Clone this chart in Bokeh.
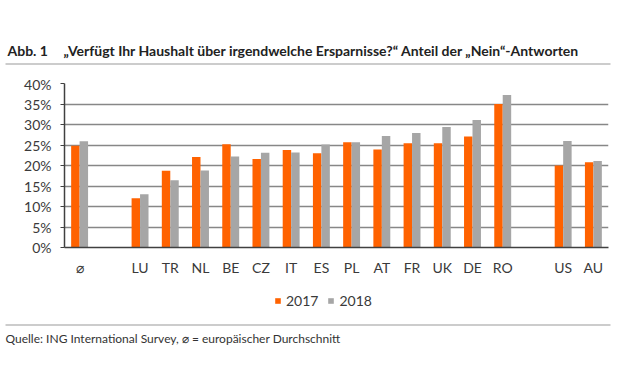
from bokeh.plotting import figure
from bokeh.models import (FactorRange, Range1d, PrintfTickFormatter, Legend, LegendItem,
                          FixedTicker, ColumnDataSource, Label)
from bokeh.transform import dodge
from bokeh.layouts import column
from bokeh.embed import file_html
from bokeh.resources import INLINE

# ---------------- data ----------------
countries = ["⌀", "LU", "TR", "NL", "BE", "CZ", "IT", "ES", "PL", "AT", "FR", "UK", "DE", "RO", "US", "AU"]
values_2017 = [24.8, 12.0, 18.7, 22.1, 25.2, 21.6, 23.8, 23.0, 25.7, 23.9, 25.4, 25.4, 27.1, 35.0, 20.0, 20.8]
values_2018 = [25.9, 13.0, 16.4, 18.8, 22.2, 23.1, 23.2, 25.1, 25.7, 27.2, 27.9, 29.4, 31.1, 37.2, 26.0, 21.1]
axis_factors = ["⌀", " ", "LU", "TR", "NL", "BE", "CZ", "IT", "ES", "PL", "AT", "FR", "UK", "DE", "RO",
                "  ", "US", "AU"]
y_ticks = [0, 5, 10, 15, 20, 25, 30, 35, 40]
series_labels = ["2017", "2018"]

title_fig = "Abb. 1"
title_text = "\u201eVerfügt Ihr Haushalt über irgendwelche Ersparnisse?\u201c Anteil der \u201eNein\u201c-Antworten"
source_text = "Quelle: ING International Survey, \u2300 = europäischer Durchschnitt"

ORANGE = "#FF6200"
GREY = "#A6A6A6"
TXT = "#3a3a3a"
FONT = "Lato"
W = 616

# ---------------- top (title) ----------------
top = figure(width=W, height=75, x_range=Range1d(0, W), y_range=Range1d(75, 0),
             output_backend="svg", toolbar_location=None, min_border=0,
             x_axis_location=None, y_axis_location=None, frame_align=False)
top.grid.visible = False
top.outline_line_color = None
top.add_layout(Label(x=7, y=50, text=title_fig, text_font=FONT, text_font_size="14px",
                     text_font_style="bold", text_color="#222222", text_baseline="middle"))
top.add_layout(Label(x=63, y=50, text=title_text, text_font=FONT, text_font_size="14px",
                     text_font_style="bold", text_color="#222222", text_baseline="middle"))
top.segment(x0=[5], y0=[63.5], x1=[610], y1=[63.5], line_color="#9a9a9a", line_width=1.2)

# ---------------- main chart ----------------
src = ColumnDataSource(dict(country=countries, v2017=values_2017, v2018=values_2018))

p = figure(width=W, height=208, x_range=FactorRange(*axis_factors, range_padding=0),
           y_range=Range1d(0, 40), output_backend="svg", toolbar_location=None,
           min_border_left=64, min_border_right=8, min_border_top=8, min_border_bottom=36,
           frame_align=False)
p.outline_line_color = None

r1 = p.vbar(x=dodge("country", -0.14, range=p.x_range), top="v2017", width=0.28, source=src,
            fill_color=ORANGE, line_color=None)
r2 = p.vbar(x=dodge("country", 0.14, range=p.x_range), top="v2018", width=0.28, source=src,
            fill_color=GREY, line_color=None)

p.yaxis.ticker = FixedTicker(ticks=y_ticks)
p.yaxis.formatter = PrintfTickFormatter(format="%d%%")
p.yaxis.axis_line_color = "#404040"
p.yaxis.axis_line_width = 1.5
p.yaxis.major_tick_line_color = "#404040"
p.yaxis.major_tick_out = 4
p.yaxis.major_tick_in = 0
p.yaxis.minor_tick_line_color = None
p.yaxis.major_label_standoff = 9
p.yaxis.major_label_text_font = FONT
p.yaxis.major_label_text_font_size = "14px"
p.yaxis.major_label_text_color = TXT

p.xaxis.axis_line_color = "#404040"
p.xaxis.axis_line_width = 1.5
p.xaxis.major_tick_line_color = None
p.xaxis.minor_tick_line_color = None
p.xaxis.major_label_standoff = 5
p.xaxis.major_label_text_font = FONT
p.xaxis.major_label_text_font_size = "14px"
p.xaxis.major_label_text_color = TXT

p.xgrid.visible = False
p.ygrid.grid_line_color = "#878787"
p.ygrid.grid_line_width = 1.5

# ---------------- bottom (legend + source) ----------------
bot = figure(width=W, height=92, x_range=Range1d(0, W), y_range=Range1d(92, 0),
             output_backend="svg", toolbar_location=None, min_border=0,
             x_axis_location=None, y_axis_location=None, frame_align=False)
bot.grid.visible = False
bot.outline_line_color = None
# zero-height legend proxies carrying the series styles
k1 = bot.vbar(x=[0], top=[0], bottom=[0], width=0, fill_color=ORANGE, line_color=None)
k2 = bot.vbar(x=[0], top=[0], bottom=[0], width=0, fill_color=GREY, line_color=None)
legend = Legend(items=[LegendItem(label=series_labels[0], renderers=[k1]),
                       LegendItem(label=series_labels[1], renderers=[k2])],
                orientation="horizontal", location=(274, 66), border_line_color=None,
                background_fill_alpha=0, glyph_width=7, glyph_height=7, label_standoff=5,
                spacing=9, padding=0, margin=0, label_text_font=FONT,
                label_text_font_size="14px", label_text_color=TXT)
bot.add_layout(legend)
bot.segment(x0=[5], y0=[41.5], x1=[610], y1=[41.5], line_color="#9a9a9a", line_width=1.2)
bot.add_layout(Label(x=5, y=55, text=source_text, text_font=FONT, text_font_size="12px",
                     text_color="#333333", text_baseline="middle"))

layout = column(top, p, bot, spacing=0)
open("out.html", "w").write(file_html(layout, INLINE))
